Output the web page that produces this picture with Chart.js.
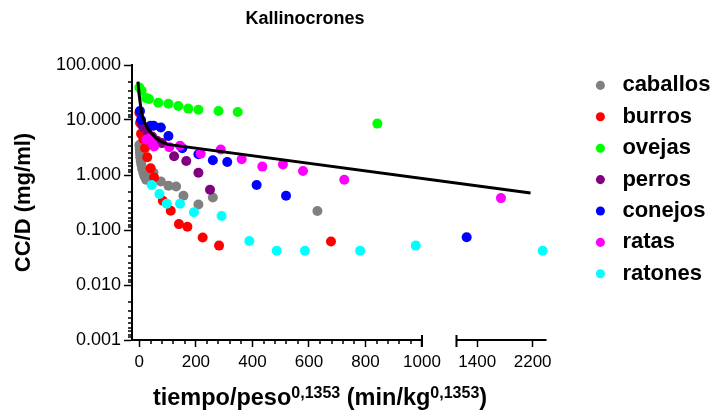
<!DOCTYPE html>
<html>
<head>
<meta charset="utf-8">
<title>Kallinocrones</title>
<script src="https://cdn.jsdelivr.net/npm/chart.js@4.4.1/dist/chart.umd.min.js"></script>
<style>
  html, body { margin: 0; padding: 0; background: #fff; }
  #wrap { position: relative; width: 715px; height: 417px; font-family: 'Liberation Sans', Arial, sans-serif; }
  #chart { position: absolute; left: 0; top: 0; }
  .title { position: absolute; font-weight: bold; white-space: nowrap; color: #000; transform: translateX(-50%); }
  #main-title { left: 305px; top: 8px; font-size: 18px; line-height: 20px; }
  #x-title { left: 320px; top: 384px; font-size: 23.5px; line-height: 26px; }
  #x-title sup { font-size: 16px; vertical-align: 7.5px; line-height: 0; }
</style>
</head>
<body>
<div id="wrap">
  <canvas id="chart" width="715" height="417"></canvas>
  <div id="main-title" class="title">Kallinocrones</div>
  <div id="x-title" class="title">tiempo/peso<sup>0,1353</sup> (min/kg<sup>0,1353</sup>)</div>
</div>
<script>
const FONT = "'Liberation Sans', Arial, sans-serif";

// series: [tiempo/peso^0.1353, CC/D]
const caballos = [[0, 3.5], [1, 3.0], [2, 2.5], [3, 2.1], [5, 1.8], [7, 1.55], [10, 1.3], [14, 1.1], [18, 0.95],
  [24, 0.82], [38, 1.0], [50, 1.1], [76, 0.76], [103, 0.64], [130, 0.62], [156, 0.42], [209, 0.29], [260, 0.39], [630, 0.222]];
const burros = [[0, 13.6], [2.5, 8.9], [6, 5.6], [14, 4.5], [20, 3.1], [28, 2.1], [40, 1.32], [52, 0.9], [83, 0.34],
  [111, 0.224], [140, 0.128], [170, 0.115], [224, 0.073], [282, 0.052], [678, 0.062]];
const ovejas = [[0, 39], [8, 34], [24, 25], [34, 24], [67, 20.6], [103, 19.8], [138, 18], [173, 16.1], [209, 15.4],
  [280, 14.6], [348, 14], [842, 8.6]];
const perros = [[10, 8], [16, 7.3], [28, 6.1], [45, 5], [62, 4.2], [80, 3.8], [123, 2.2], [166, 1.8], [209, 1.1], [250, 0.54]];
const conejos = [[2, 14.5], [6, 10], [40, 7.9], [50, 7.9], [76, 7.3], [103, 5.1], [152, 3.06], [209, 2.38], [260, 1.86],
  [311, 1.72], [415, 0.66], [519, 0.42], [1247, 0.074]];
const ratas = [[25, 4.4], [35, 4.6], [45, 3.8], [52, 3.3], [106, 3.2], [144, 3.4], [217, 2.45], [288, 2.9], [362, 1.93],
  [435, 1.42], [508, 1.56], [579, 1.18], [725, 0.82], [1742, 0.38]];
const ratones = [[44, 0.66], [71, 0.45], [97, 0.3], [144, 0.3], [193, 0.21], [291, 0.18], [389, 0.063], [486, 0.042],
  [586, 0.042], [781, 0.042], [978, 0.052], [2345, 0.042]];

// fitted curve
const ajuste = [[-5, 50], [0, 27], [5, 17], [10, 12], [20, 8.7], [30, 7], [40, 5.9], [60, 4.6], [80, 4.0], [100, 3.6], [2170, 0.47]];

const speciesNames = ['caballos', 'burros', 'ovejas', 'perros', 'conejos', 'ratas', 'ratones'];
const speciesData = [caballos, burros, ovejas, perros, conejos, ratas, ratones];
const speciesColors = ['#808080', '#FF0000', '#00FF00', '#800080', '#0000FF', '#FF00FF', '#00FFFF'];

const xTickValues = [0, 200, 400, 600, 800, 1000, 1400, 2200];
const yTickValues = [0.001, 0.01, 0.1, 1, 10, 100];

// broken x axis: 0..1000 then a compressed 1100..2400 segment
const SEG1_MAX = 1000, SEG2_MIN = 1100, SEG2_MAX = 2400;
const SEG2_START = 1122, SEG2_SCALE = 0.245;
function toAxis(x) {
  return x <= SEG1_MAX ? x : SEG2_START + (x - SEG2_MIN) * SEG2_SCALE;
}
const toPoints = arr => arr.map(p => ({ x: toAxis(p[0]), y: p[1] }));

const datasets = [{
  label: 'ajuste',
  data: toPoints(ajuste),
  showLine: true,
  borderColor: '#000',
  borderWidth: 3,
  pointRadius: 0,
  tension: 0,
  order: 0
}];
speciesNames.forEach((name, i) => {
  datasets.push({
    label: name,
    data: toPoints(speciesData[i]),
    backgroundColor: speciesColors[i],
    borderColor: speciesColors[i],
    pointRadius: 5,
    pointBorderWidth: 0,
    order: speciesNames.length - i
  });
});

// axis line with the break, minor ticks
const brokenAxis = {
  id: 'brokenAxis',
  afterDraw(chart) {
    const { ctx, scales: { x, y } } = chart;
    const base = x.top;
    ctx.save();
    ctx.strokeStyle = '#000';
    ctx.lineWidth = 2;
    ctx.beginPath();
    ctx.moveTo(x.left, base);
    ctx.lineTo(x.getPixelForValue(toAxis(SEG1_MAX)), base);
    ctx.moveTo(x.getPixelForValue(toAxis(SEG2_MIN)), base);
    ctx.lineTo(x.getPixelForValue(toAxis(SEG2_MAX)), base);
    [SEG1_MAX, SEG2_MIN].forEach(v => {
      const px = x.getPixelForValue(toAxis(v));
      ctx.moveTo(px, base - 5);
      ctx.lineTo(px, base + 7);
    });
    ctx.stroke();

    ctx.lineWidth = 1.5;
    ctx.beginPath();
    for (let v = 40; v < SEG1_MAX; v += 40) {
      if (v % 200 === 0) continue;
      const px = Math.round(x.getPixelForValue(v));
      ctx.moveTo(px, base);
      ctx.lineTo(px, base + 4);
    }
    for (let d = -3; d < 2; d++) {
      for (let k = 2; k <= 9; k++) {
        const py = Math.round(y.getPixelForValue(Math.pow(10, d + 1) / k));
        ctx.moveTo(y.right, py);
        ctx.lineTo(y.right - 4, py);
      }
    }
    ctx.stroke();
    ctx.restore();
  }
};

new Chart(document.getElementById('chart'), {
  type: 'scatter',
  data: { datasets },
  options: {
    responsive: false,
    animation: false,
    devicePixelRatio: 1,
    layout: { padding: { top: 65, right: 0, bottom: 0, left: 0 } },
    plugins: {
      legend: {
        position: 'right',
        align: 'start',
        fullSize: false,
        maxWidth: 135,
        labels: {
          usePointStyle: true,
          boxWidth: 22,
          boxHeight: 6.4,
          padding: 9.4,
          color: '#000',
          font: { size: 22, weight: 'bold', family: FONT },
          filter: (item, data) => !data.datasets[item.datasetIndex].showLine,
          sort: (a, b) => a.datasetIndex - b.datasetIndex
        }
      },
      tooltip: { enabled: false }
    },
    scales: {
      x: {
        type: 'linear',
        min: -26,
        max: 1559,
        afterBuildTicks: s => { s.ticks = xTickValues.map(v => ({ value: toAxis(v) })); },
        afterFit: s => { s.height = 77; },
        border: { display: false },
        grid: { drawOnChartArea: false, tickLength: 7, tickWidth: 1.5, tickColor: '#000' },
        ticks: {
          autoSkip: false,
          maxRotation: 0,
          padding: 5,
          color: '#000',
          font: { size: 17, family: FONT },
          callback: (v, i) => String(xTickValues[i])
        }
      },
      y: {
        type: 'logarithmic',
        min: 0.001,
        max: 100,
        afterBuildTicks: s => { s.ticks = yTickValues.map(v => ({ value: v })); },
        afterFit: s => { s.width = 132; },
        border: { color: '#000', width: 2 },
        grid: { drawOnChartArea: false, tickLength: 8, tickWidth: 1.5, tickColor: '#000' },
        ticks: {
          padding: 3,
          color: '#000',
          font: { size: 18, family: FONT },
          callback: (v, i) => yTickValues[i].toFixed(3)
        },
        title: {
          display: true,
          text: 'CC/D (mg/ml)',
          color: '#000',
          font: { size: 22, weight: 'bold', family: FONT },
          padding: { top: 11, bottom: 0 }
        }
      }
    }
  },
  plugins: [brokenAxis]
});
</script>
</body>
</html>
